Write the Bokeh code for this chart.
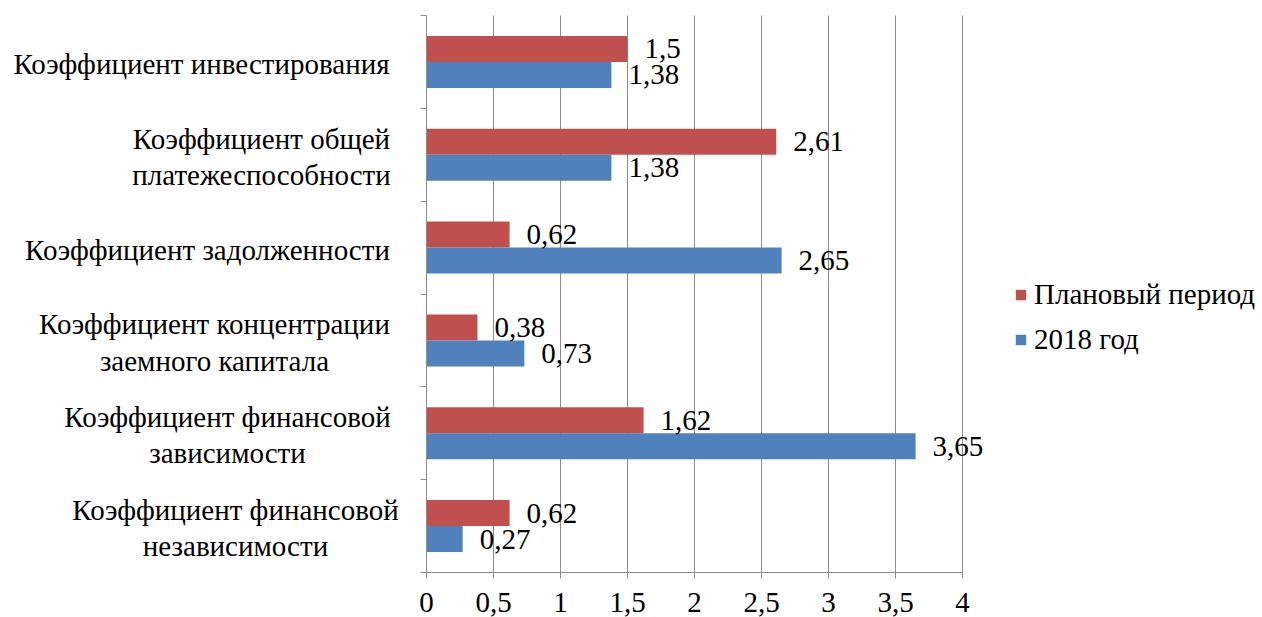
from bokeh.plotting import figure
from bokeh.models import (Range1d, FixedTicker, Legend, LegendItem, Label,
                          ColumnDataSource, LabelSet)
from bokeh.embed import file_html
from bokeh.resources import INLINE

# ---------------- data ----------------
categories = [
    "Коэффициент инвестирования",
    "Коэффициент общей\nплатежеспособности",
    "Коэффициент задолженности",
    "Коэффициент концентрации\nзаемного капитала",
    "Коэффициент финансовой\nзависимости",
    "Коэффициент финансовой\nнезависимости",
]
plan_values = [1.5, 2.61, 0.62, 0.38, 1.62, 0.62]
y2018_values = [1.38, 1.38, 2.65, 0.73, 3.65, 0.27]
series_names = ["Плановый период", "2018 год"]
x_ticks = [0, 0.5, 1, 1.5, 2, 2.5, 3, 3.5, 4]
x_tick_labels = ["0", "0,5", "1", "1,5", "2", "2,5", "3", "3,5", "4"]

# ---------------- style / layout ----------------
W, H = 1262, 617
FONT = "Liberation Serif"
FS = "29px"
RED = "#C0504D"
BLUE = "#4F81BD"
GRID = "#8C8C8C"
PLOT_L, PLOT_R, PLOT_T, PLOT_B = 426, 962, 15, 572   # pixel box of the value area
label_centers_px = [201, 261, 207, 214, 227, 235]
BAR_H = 0.28

n = len(categories)
xmax = x_ticks[-1]
ppx = (PLOT_R - PLOT_L) / xmax          # pixels per x unit
ppy = (PLOT_B - PLOT_T) / n             # pixels per category
x_start, x_end = -PLOT_L / ppx, xmax + (W - PLOT_R) / ppx
y_start, y_end = -(H - PLOT_B) / ppy, n + PLOT_T / ppy

centers = [n - i - 0.5 for i in range(n)]
fmt = lambda v: ("%g" % v).replace(".", ",")

p = figure(width=W, height=H, x_range=Range1d(x_start, x_end),
           y_range=Range1d(y_start, y_end),
           output_backend="svg", toolbar_location=None,
           min_border=0)
p.outline_line_color = None
p.background_fill_color = "white"
p.border_fill_color = "white"

# grid lines (vertical, at tick values)
p.segment(x0=x_ticks[1:], x1=x_ticks[1:], y0=0, y1=n, line_color=GRID, line_width=1)

plan_src = ColumnDataSource(dict(y=[c + BAR_H / 2 for c in centers], v=plan_values,
                                 t=[fmt(v) for v in plan_values]))
y18_src = ColumnDataSource(dict(y=[c - BAR_H / 2 for c in centers], v=y2018_values,
                                t=[fmt(v) for v in y2018_values]))

r_plan = p.hbar(y="y", left=0, right="v", height=BAR_H, source=plan_src,
                fill_color=RED, line_color=None)
r_18 = p.hbar(y="y", left=0, right="v", height=BAR_H, source=y18_src,
              fill_color=BLUE, line_color=None)

for src in (plan_src, y18_src):
    p.add_layout(LabelSet(x="v", y="y", text="t", source=src, x_offset=17,
                          text_baseline="middle", text_align="left",
                          text_font=FONT, text_font_size=FS, text_color="black"))

# axes placed at data location 0
xa = p.xaxis[0]
xa.fixed_location = 0
xa.bounds = (0, xmax)
xa.ticker = FixedTicker(ticks=x_ticks)
xa.major_label_overrides = {t: l for t, l in zip(x_ticks, x_tick_labels)}
xa.major_label_text_font = FONT
xa.major_label_text_font_size = FS
xa.major_label_text_color = "black"
xa.axis_line_color = GRID
xa.major_tick_line_color = GRID
xa.major_tick_out = 6
xa.major_tick_in = 0
xa.minor_tick_line_color = None
xa.major_label_standoff = 14

ya = p.yaxis[0]
ya.fixed_location = 0
ya.bounds = (0, n)
ya.ticker = FixedTicker(ticks=list(range(n + 1)))
ya.major_label_overrides = {i: "" for i in range(n + 1)}
ya.axis_line_color = GRID
ya.major_tick_line_color = GRID
ya.major_tick_out = 6
ya.major_tick_in = 0
ya.minor_tick_line_color = None

p.xgrid.visible = False
p.ygrid.visible = False

# category labels, lines centred, block right edge near the axis
for cat, c, cx in zip(categories, centers, label_centers_px):
    p.add_layout(Label(x=cx, y=c, x_units="screen", y_units="data", y_offset=-2,
                       text=cat, text_align="center", text_baseline="middle",
                       text_font=FONT, text_font_size=FS, text_color="black",
                       text_line_height=1.14))

legend = Legend(items=[LegendItem(label=series_names[0], renderers=[r_plan]),
                       LegendItem(label=series_names[1], renderers=[r_18])],
                location=(1014, H - 356), orientation="vertical",
                label_text_font=FONT, label_text_font_size=FS,
                label_text_color="black",
                glyph_width=13, glyph_height=13, label_standoff=7,
                spacing=12, padding=0, margin=0,
                border_line_color=None, background_fill_alpha=0)
p.add_layout(legend, "center")

open("out.html", "w").write(file_html(p, INLINE))
